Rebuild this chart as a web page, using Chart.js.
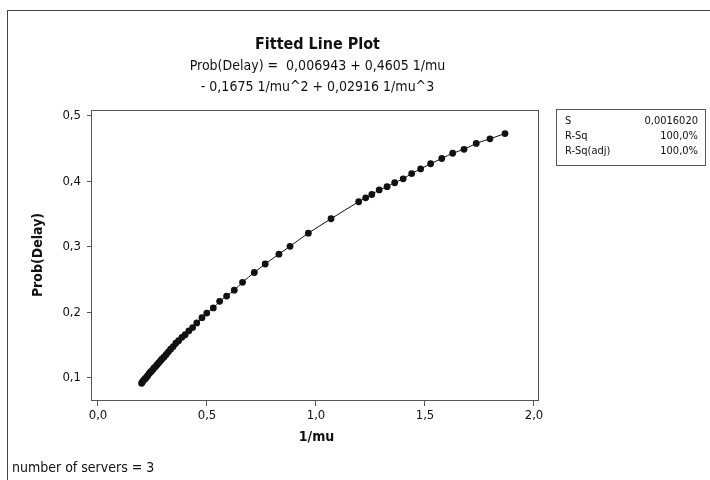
<!DOCTYPE html>
<html>
<head>
<meta charset="utf-8">
<script src="https://cdn.jsdelivr.net/npm/chart.js@4.4.1/dist/chart.umd.min.js"></script>
<style>
  html, body { margin: 0; padding: 0; background: #fff; }
  #wrap { position: relative; width: 710px; height: 480px; }
</style>
</head>
<body>
<div id="wrap"><canvas id="fit-chart" width="710" height="480"></canvas></div>
<script>
const FONT = '"DejaVu Sans Condensed", "DejaVu Sans", sans-serif';

const titleText = 'Fitted Line Plot';
const equationLines = [
    'Prob(Delay) =  0,006943 + 0,4605 1/mu',
    '- 0,1675 1/mu^2 + 0,02916 1/mu^3'
];
const xTitle = '1/mu';
const yTitle = 'Prob(Delay)';
const footnote = 'number of servers = 3';

const xTickValues = [0, 0.5, 1.0, 1.5, 2.0];
const yTickValues = [0.1, 0.2, 0.3, 0.4, 0.5];

const statNames = ['S', 'R-Sq', 'R-Sq(adj)'];
const statValues = ['0,0016020', '100,0%', '100,0%'];

// observations: 1/mu against Prob(Delay)
const invMu = [
    0.200, 0.204, 0.208, 0.213, 0.217, 0.222, 0.227, 0.233, 0.238, 0.244,
    0.250, 0.256, 0.263, 0.270, 0.278, 0.286, 0.294, 0.303, 0.313, 0.323,
    0.333, 0.345, 0.357, 0.370, 0.385, 0.400, 0.417, 0.434, 0.453, 0.477,
    0.499, 0.529, 0.558, 0.590, 0.625, 0.663, 0.717, 0.767, 0.830, 0.881,
    0.965, 1.069, 1.196, 1.228, 1.256, 1.290, 1.326, 1.361, 1.400, 1.439,
    1.480, 1.526, 1.577, 1.627, 1.679, 1.735, 1.798, 1.867
];
const probDelay = [
    0.092, 0.094, 0.096, 0.098, 0.099, 0.101, 0.103, 0.106, 0.108, 0.110,
    0.112, 0.115, 0.117, 0.120, 0.123, 0.126, 0.129, 0.132, 0.136, 0.140,
    0.144, 0.148, 0.153, 0.157, 0.162, 0.166, 0.172, 0.177, 0.184, 0.192,
    0.199, 0.207, 0.217, 0.225, 0.234, 0.246, 0.261, 0.274, 0.289, 0.301,
    0.321, 0.343, 0.369, 0.375, 0.380, 0.387, 0.392, 0.398, 0.404, 0.412,
    0.419, 0.427, 0.435, 0.443, 0.449, 0.458, 0.465, 0.473
];

const points = invMu.map((x, i) => ({ x: x, y: probDelay[i] }));

const comma = v => Number(v).toFixed(1).replace('.', ',');

// frame, headings, axis titles and the stats box around the plot
const decorations = {
    id: 'decorations',
    beforeDraw(chart) {
        const ctx = chart.ctx;
        ctx.save();
        ctx.fillStyle = '#fff';
        ctx.fillRect(0, 0, chart.width, chart.height);
        ctx.strokeStyle = '#444';
        ctx.lineWidth = 1;
        ctx.strokeRect(7.5, 10.5, 800, 600);
        ctx.restore();
    },
    afterDraw(chart) {
        const ctx = chart.ctx;
        const area = chart.chartArea;
        const cx = (area.left + area.right) / 2;
        ctx.save();
        ctx.strokeStyle = '#555';
        ctx.lineWidth = 1;
        ctx.strokeRect(Math.round(area.left) - 0.5, Math.round(area.top) + 0.5,
            Math.round(area.right - area.left), Math.round(area.bottom - area.top));

        ctx.fillStyle = '#111';
        ctx.textAlign = 'center';
        ctx.textBaseline = 'middle';
        ctx.font = 'bold 16px ' + FONT;
        ctx.fillText(titleText, cx + 2, 45);
        ctx.font = '14px ' + FONT;
        ctx.fillText(equationLines[0], cx + 2, 66);
        ctx.fillText(equationLines[1], cx + 2, 87);

        ctx.font = 'bold 14px ' + FONT;
        ctx.fillText(xTitle, cx + 1, 437);
        ctx.save();
        ctx.translate(38, (area.top + area.bottom) / 2);
        ctx.rotate(-Math.PI / 2);
        ctx.fillText(yTitle, 0, 0);
        ctx.restore();

        ctx.textAlign = 'left';
        ctx.font = '14px ' + FONT;
        ctx.fillText(footnote, 12, 468);

        // stats box
        ctx.strokeStyle = '#555';
        ctx.strokeRect(556.5, 109.5, 149, 56);
        ctx.font = '11px ' + FONT;
        statNames.forEach((name, i) => {
            const y = 121 + i * 15;
            ctx.textAlign = 'left';
            ctx.fillText(name, 565, y);
            ctx.textAlign = 'right';
            ctx.fillText(statValues[i], 698, y);
        });
        ctx.restore();
    }
};

const ctx = document.getElementById('fit-chart').getContext('2d');
new Chart(ctx, {
    type: 'scatter',
    data: {
        datasets: [{
            label: 'Prob(Delay)',
            data: points,
            showLine: true,
            borderColor: '#111',
            borderWidth: 1,
            backgroundColor: '#111',
            pointRadius: 3.4,
            pointHoverRadius: 3.4,
            pointBorderWidth: 0,
            cubicInterpolationMode: 'monotone'
        }]
    },
    options: {
        responsive: false,
        animation: false,
        layout: { padding: { left: 0, top: 110, right: 171, bottom: 0 } },
        plugins: {
            legend: { display: false },
            tooltip: { enabled: false }
        },
        scales: {
            x: {
                type: 'linear',
                min: -0.0275,
                max: 2.023,
                afterFit: scale => { scale.height = 80; },
                afterBuildTicks: scale => { scale.ticks = xTickValues.map(v => ({ value: v })); },
                border: { display: false },
                grid: { drawOnChartArea: false, drawTicks: true, tickLength: 6, color: '#555' },
                ticks: {
                    padding: 2,
                    color: '#111',
                    font: { family: FONT, size: 13 },
                    callback: comma,
                    maxRotation: 0
                }
            },
            y: {
                type: 'linear',
                min: 0.0664,
                max: 0.509,
                afterFit: scale => { scale.width = 92; },
                afterBuildTicks: scale => { scale.ticks = yTickValues.map(v => ({ value: v })); },
                border: { display: false },
                grid: { drawOnChartArea: false, drawTicks: true, tickLength: 5, color: '#555' },
                ticks: {
                    padding: 6,
                    color: '#111',
                    font: { family: FONT, size: 13 },
                    callback: comma
                }
            }
        }
    },
    plugins: [decorations]
});
</script>
</body>
</html>
